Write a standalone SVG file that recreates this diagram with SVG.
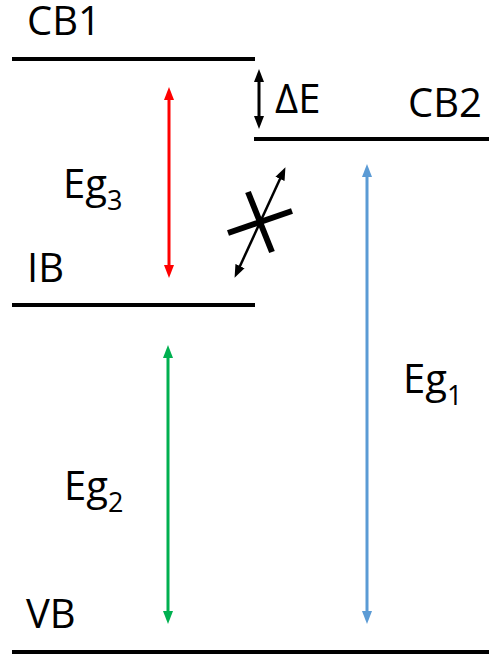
<svg xmlns="http://www.w3.org/2000/svg" width="489" height="658" viewBox="0 0 489 658">
<style>
.lvl{stroke:#000;stroke-width:4;fill:none}
.t{font-family:"Open Sans","Noto Sans",sans-serif;font-size:40px;fill:#000}
.s{font-size:27px}
</style>
<defs>
<marker id="hr" markerUnits="userSpaceOnUse" markerWidth="14" markerHeight="12" refX="6" refY="5" orient="auto-start-reverse" viewBox="0 0 14 10"><path d="M0,0 L13,5 L0,10 z" fill="#FF0000"/></marker>
<marker id="hg" markerUnits="userSpaceOnUse" markerWidth="14" markerHeight="12" refX="6" refY="5" orient="auto-start-reverse" viewBox="0 0 14 10"><path d="M0,0 L13,5 L0,10 z" fill="#00B050"/></marker>
<marker id="hb" markerUnits="userSpaceOnUse" markerWidth="14" markerHeight="12" refX="6" refY="5" orient="auto-start-reverse" viewBox="0 0 14 10"><path d="M0,0 L13,5 L0,10 z" fill="#5B9BD5"/></marker>
<marker id="hk" markerUnits="userSpaceOnUse" markerWidth="14" markerHeight="12" refX="6" refY="5" orient="auto-start-reverse" viewBox="0 0 14 10"><path d="M0,0 L13,5 L0,10 z" fill="#000"/></marker>
</defs>
<g id="CB1"><line class="lvl" x1="12" y1="59" x2="255" y2="59"/><text class="t" x="27" y="35">CB1</text></g>
<g id="CB2"><line class="lvl" x1="254" y1="139" x2="489" y2="139"/><text class="t" x="408" y="117">CB2</text></g>
<g id="IB"><line class="lvl" x1="12" y1="305" x2="255" y2="305"/><text class="t" x="27" y="282">IB</text></g>
<g id="VB"><line class="lvl" x1="12" y1="652" x2="489" y2="652"/><text class="t" x="26" y="628">VB</text></g>
<g id="labels">
<text class="t" x="63" y="198">Eg<tspan class="s" dy="12">3</tspan></text>
<text class="t" x="64" y="500">Eg<tspan class="s" dy="12">2</tspan></text>
<text class="t" x="403" y="393">Eg<tspan class="s" dy="12">1</tspan></text>
<text class="t" x="275" y="113">ΔE</text>
</g>
<g id="connectors">
<line x1="169" y1="94" x2="169" y2="271" stroke="#FF0000" stroke-width="3" marker-start="url(#hr)" marker-end="url(#hr)"/>
<line x1="168" y1="352" x2="168" y2="617" stroke="#00B050" stroke-width="3" marker-start="url(#hg)" marker-end="url(#hg)"/>
<line x1="367" y1="171" x2="367" y2="617" stroke="#5B9BD5" stroke-width="3" marker-start="url(#hb)" marker-end="url(#hb)"/>
<line x1="259" y1="76" x2="259" y2="122" stroke="#000" stroke-width="3" marker-start="url(#hk)" marker-end="url(#hk)"/>
<line x1="237.5" y1="271.5" x2="282.5" y2="173.5" stroke="#000" stroke-width="2.5" marker-start="url(#hk)" marker-end="url(#hk)"/>
</g>
<g id="cross" stroke="#000" stroke-width="6" stroke-linecap="butt">
<line x1="228" y1="233" x2="292" y2="211"/>
<line x1="248" y1="192" x2="272" y2="252"/>
</g>
</svg>
